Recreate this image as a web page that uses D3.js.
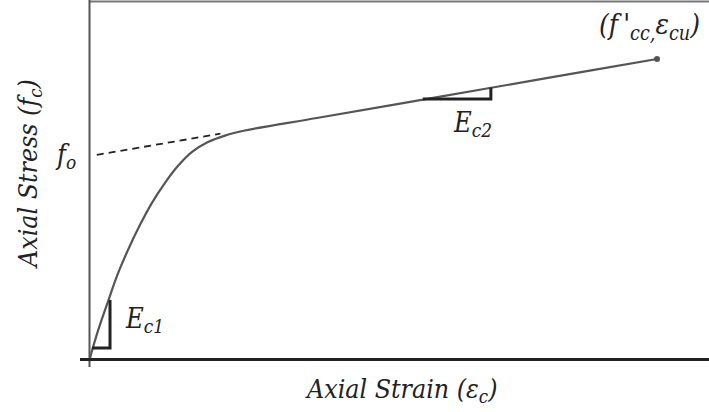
<!DOCTYPE html>
<html lang="en">
<head>
    <meta charset="UTF-8">
    <title>Axial stress-strain</title>
    <script src="https://cdn.jsdelivr.net/npm/d3@7/dist/d3.min.js"></script>
    <style>
        body { margin: 0; background: #fff; }
    </style>
</head>
<body>
    <svg></svg>
    <script>
        // curve (strain normalised to eps_cu, stress normalised to fo)
        let strain = [0, 0.014, 0.032, 0.049, 0.067, 0.088, 0.109, 0.132, 0.155, 0.180, 0.208, 0.238, 0.273, 0.40, 0.60, 0.80, 1.0];
        let stress = [0, 0.134, 0.282, 0.416, 0.535, 0.658, 0.767, 0.866, 0.950, 1.020, 1.069, 1.101, 1.126, 1.188, 1.285, 1.383, 1.480];
        // extrapolated linear branch (dashed), from fo
        let dashStrain = [0.012, 0.23];
        let fo = 1.0, E2 = 0.48;
        // slope triangles
        let tri1 = [[0.0035, 0.0495], [0.0353, 0.0495], [0.0353, 0.287]];
        let tri2 = [[0.587, 1.282], [0.707, 1.282], [0.707, 1.339]];

        let width = 709, height = 412;
        let svg = d3.select('svg').attr('width', width).attr('height', height);

        let x = d3.scaleLinear().domain([0, 1]).range([90, 657]);
        let y = d3.scaleLinear().domain([0, 1]).range([358, 156]);

        // frame: top line, y axis, x axis
        svg.append('line').attr('x1', 89.5).attr('x2', width).attr('y1', 1.5).attr('y2', 1.5)
            .attr('stroke', '#777').attr('stroke-width', 2);
        svg.append('line').attr('x1', 89.5).attr('x2', 89.5).attr('y1', 0).attr('y2', 367)
            .attr('stroke', '#555').attr('stroke-width', 2);
        svg.append('line').attr('x1', 80).attr('x2', width).attr('y1', y(0) + 1.5).attr('y2', y(0) + 1.5)
            .attr('stroke', '#222').attr('stroke-width', 3);

        // dashed extension of linear branch
        svg.append('line')
            .attr('x1', x(dashStrain[0])).attr('y1', y(fo + E2 * dashStrain[0]))
            .attr('x2', x(dashStrain[1])).attr('y2', y(fo + E2 * dashStrain[1]))
            .attr('stroke', '#222').attr('stroke-width', 1.8).attr('stroke-dasharray', '7,5');

        // stress-strain curve
        let pts = strain.map((d, i) => [d, stress[i]]);
        let line = d3.line().x(d => x(d[0])).y(d => y(d[1])).curve(d3.curveCatmullRom.alpha(0.5));
        svg.append('path').datum(pts).attr('d', line)
            .attr('fill', 'none').attr('stroke', '#555').attr('stroke-width', 2.2);

        // end point
        svg.append('circle').attr('cx', x(strain[strain.length - 1])).attr('cy', y(stress[stress.length - 1]))
            .attr('r', 3).attr('fill', '#555');

        // slope triangles
        let tri = d3.line().x(d => x(d[0])).y(d => y(d[1]));
        [tri1, tri2].forEach(t => {
            svg.append('path').attr('d', tri(t)).attr('fill', 'none')
                .attr('stroke', '#222').attr('stroke-width', 3).attr('stroke-linejoin', 'miter');
        });

        // labels
        let lab = (px, py, parts, size) => {
            let t = svg.append('text').attr('x', px).attr('y', py)
                .attr('font-family', '"DejaVu Serif Condensed", "DejaVu Serif", serif')
                .attr('font-style', 'italic')
                .attr('fill', '#222')
                .attr('font-size', size);
            parts.forEach(p => {
                let s = t.append('tspan').text(p[0]);
                if (p[1] === 'sub') s.attr('font-size', size * 0.7).attr('dy', size * 0.2);
                if (p[1] === 'base') s.attr('dy', -size * 0.2);
            });
            return t;
        };
        lab(57, 164, [['f'], ['o', 'sub']], 27);
        lab(126, 328, [['E'], ['c1', 'sub']], 27);
        lab(454, 132, [['E'], ['c2', 'sub']], 27);
        lab(599, 34, [['(f\u2009\''], ['cc,', 'sub'], ['\u03b5', 'base'], ['cu', 'sub'], [')', 'base']], 28);

        lab(307, 398, [['Axial Strain (\u03b5'], ['c', 'sub'], [')', 'base']], 26.5);
        lab(0, 0, [['Axial Stress ('], ['f'], ['c', 'sub'], [')', 'base']], 26.5)
            .attr('transform', 'translate(37,267) rotate(-90)');
    </script>
</body>
</html>
